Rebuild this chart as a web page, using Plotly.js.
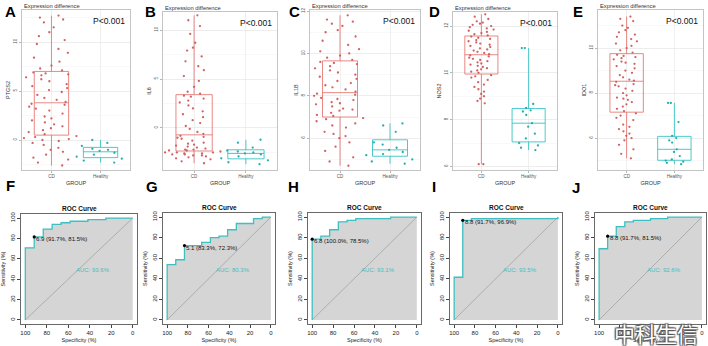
<!DOCTYPE html>
<html><head><meta charset="utf-8">
<script src="https://cdn.plot.ly/plotly-3.0.1.min.js"></script>
<style>html,body{margin:0;padding:0;background:#fff;}#chart{width:708px;height:346px;}</style>
</head><body><div id="chart"></div>
<script>
// ---------- DATA ----------
const groups = ['CD', 'Healthy'];
const genes = ['PTGS2', 'IL6', 'IL1B', 'NOS2', 'IDO1'];
const pValueText = 'P<0.001';

const ptgs2CD = [-2.6,-2.3,-2.0,-1.8,-1.5,-1.2,-1.0,-0.8,-0.5,-0.3,-0.1,0.0,0.1,0.2,0.3,0.4,
  0.6,0.8,1.0,1.2,1.4,1.6,1.8,2.0,2.2,2.4,2.7,3.0,3.2,3.4,3.6,3.7,
  3.9,4.1,4.3,4.6,4.9,5.1,5.3,5.5,5.7,6.0,6.2,6.4,6.6,6.7,6.8,6.9,
  7.1,7.3,7.6,8.0,8.4,8.9,9.3,9.8,10.2,10.6,11.0,11.5,12.0,12.3,12.5,12.7];
const ptgs2Healthy = [-2.3,-2.1,-1.9,-1.7,-1.5,-1.3,-1.1,-1.0,-0.9,-0.6,-0.3,0.0];

const il6CD = [-3.6,-3.4,-3.2,-3.1,-3.0,-2.9,-2.8,-2.8,-2.7,-2.7,-2.6,-2.6,-2.5,-2.5,-2.5,-2.4,
  -2.3,-2.3,-2.2,-2.2,-2.1,-2.0,-1.9,-1.8,-1.7,-1.6,-1.5,-1.3,-1.1,-1.0,-0.9,-0.8,
  -0.6,-0.4,-0.1,0.2,0.5,0.8,1.1,1.4,1.7,2.0,2.3,2.6,2.8,3.0,3.2,3.3,
  3.5,3.7,4.2,4.8,5.3,5.9,6.3,6.8,7.3,7.9,8.2,8.7,9.6,10.4,11.0,11.5];
const il6Healthy = [-3.7,-3.5,-3.3,-3.1,-2.9,-2.7,-2.6,-2.5,-2.4,-2.3,-2.0,-1.5,-1.2];

const il1bCD = [4.7,4.9,5.1,5.4,5.6,5.8,6.0,6.1,6.2,6.3,6.5,6.6,6.7,6.8,6.9,6.95,
  7.05,7.1,7.2,7.3,7.35,7.4,7.5,7.6,7.65,7.7,7.8,7.85,7.9,8.0,8.05,8.1,
  8.2,8.3,8.4,8.5,8.6,8.7,8.8,8.9,9.0,9.1,9.2,9.3,9.4,9.5,9.55,9.6,
  9.7,9.8,9.9,10.0,10.1,10.2,10.4,10.6,10.8,11.0,11.1,11.3,11.4,11.5,11.6,11.8];
const il1bHealthy = [4.8,4.9,5.0,5.2,5.25,5.35,5.45,5.55,5.7,5.8,6.3,6.6,6.7];

const nos2CD = [6.1,6.1,8.7,8.8,8.9,9.0,9.1,9.2,9.3,9.4,9.5,9.6,9.7,9.8,9.85,9.9,
  10.0,10.05,10.1,10.15,10.2,10.25,10.3,10.35,10.4,10.45,10.5,10.55,10.6,10.65,10.7,10.75,
  10.8,10.85,10.9,10.95,11.0,11.05,11.1,11.15,11.2,11.25,11.3,11.35,11.4,11.45,11.5,11.55,
  11.6,11.65,11.7,11.75,11.8,11.85,11.9,11.95,12.0,12.05,12.1,12.15,12.2,12.3,12.4,12.5];
const nos2Healthy = [6.7,6.8,6.9,7.0,7.2,7.4,7.7,7.85,8.2,8.35,8.4,8.5,8.67,11.06,11.06];

const ido1CD = [5.1,5.3,5.5,5.7,5.9,6.0,6.1,6.2,6.3,6.4,6.5,6.6,6.8,6.9,7.0,7.1,
  7.2,7.3,7.4,7.5,7.6,7.7,7.75,7.8,7.9,8.0,8.1,8.2,8.3,8.35,8.4,8.5,
  8.55,8.6,8.7,8.8,8.9,9.0,9.1,9.2,9.3,9.35,9.4,9.5,9.55,9.6,9.65,9.7,
  9.8,9.9,10.0,10.1,10.2,10.3,10.4,10.5,10.6,10.7,10.8,10.9,11.0,11.2,11.3,11.4];
const ido1Healthy = [4.84,4.9,4.95,5.0,5.05,5.2,5.38,5.5,5.8,5.9,6.0,6.1,6.71,7.56,7.56];

// ROC curves (specificity %, sensitivity %)
const rocSpecF = [100,100,91.7,91.7,83.3,83.3,75,75,66.7,66.7,58.3,58.3,41.7,41.7,25,25,0];
const rocSensF = [0,70.8,70.8,81.5,81.5,89.2,89.2,93.8,93.8,95.4,95.4,96.9,96.9,98.5,98.5,100,100];
const rocSpecG = [100,100,91.7,91.7,83.3,83.3,66.7,66.7,58.3,58.3,50,50,41.7,41.7,33.3,33.3,16.7,16.7,8.3,8.3,0];
const rocSensG = [0,53.8,53.8,58.5,58.5,72.3,72.3,75.4,75.4,80.0,80.0,81.5,81.5,87.7,87.7,93.8,93.8,98.5,98.5,100,100];
const rocSpecH = [100,100,91.7,91.7,83.3,83.3,75,75,66.7,66.7,58.3,58.3,25,25,0];
const rocSensH = [0,78.5,78.5,81.5,81.5,87.7,87.7,95.4,95.4,96.9,96.9,98.5,98.5,100,100];
const rocSpecI = [100,100,91.7,91.7,83.3,83.3,0,0];
const rocSensI = [0,41.5,41.5,96.9,96.9,98.5,98.5,100];
const rocSpecJ = [100,100,91.7,91.7,83.3,83.3,75,75,66.7,66.7,50,50,33.3,33.3,0];
const rocSensJ = [0,69.2,69.2,81.5,81.5,90.8,90.8,95.4,95.4,96.9,96.9,98.5,98.5,100,100];

const thrValue = [6.9, 5.1, 6.8, 8.8, 8.8];
const thrSpec = [91.7, 83.3, 100.0, 91.7, 91.7];
const thrSens = [81.5, 72.3, 78.5, 96.9, 81.5];
const aucValue = [93.6, 80.3, 93.1, 93.5, 92.6];
const diagSpec = [100, 0];
const diagSens = [0, 100];

const topLetters = ['A','B','C','D','E'];
const rocLetters = ['F','G','H','I','J'];
const watermark = '中科生信';

// ---------- LAYOUT CONFIG ----------
const W = 708, H = 346;
const xd = (l, r) => [l / W, r / W];
const yd = (t, b) => [1 - b / H, 1 - t / H];
const FONT = 'Liberation Sans, Arial, sans-serif';
const RED = '#E5736E', REDPT = '#cf5a5a', CYAN = '#2CC0C2', CYANPT = '#1aa9ab';
const TEAL = '#3fbfbf';

const topCfg = [
  {cd: ptgs2CD, hl: ptgs2Healthy, range: [-3.06, 13.27], dtick: 5, box: [22,130,10,170], jw: 1.15},
  {cd: il6CD, hl: il6Healthy, range: [-4.29, 11.84], dtick: 5, box: [163,277,12,170], jw: 1.15},
  {cd: il1bCD, hl: il1bHealthy, range: [4.5, 12.05], dtick: 2, box: [310,420,10,170], jw: 1.15},
  {cd: nos2CD, hl: nos2Healthy, range: [5.85, 12.6], dtick: 2, box: [453,557,12,170], jw: 0.55},
  {cd: ido1CD, hl: ido1Healthy, range: [4.58, 11.69], dtick: 2, box: [598,703,10,170], jw: 0.55}
];
const rocCfg = [
  {spec: rocSpecF, sens: rocSensF, box: [21,137,214,324]},
  {spec: rocSpecG, sens: rocSensG, box: [163,275,213,324]},
  {spec: rocSpecH, sens: rocSensH, box: [308,421,213,324]},
  {spec: rocSpecI, sens: rocSensI, box: [450,562,213,324]},
  {spec: rocSpecJ, sens: rocSensJ, box: [595,706,213,324]}
];
const topLetterPos = [[3,1],[143,1],[287,1],[427,1],[571,1]];
const rocLetterPos = [[4,175],[144,176],[286,176],[430,176],[570,177]];

const data = [];
const layout = {
  width: W, height: H, margin: {l:0, r:0, t:0, b:0}, showlegend: false,
  paper_bgcolor: '#fff', plot_bgcolor: '#fff', boxmode: 'overlay',
  font: {family: FONT, color: '#333'}, annotations: []
};
const ax = k => (k === 1 ? '' : String(k));

topCfg.forEach((p, i) => {
  const k = i + 1, xs = 'x' + ax(k), ys = 'y' + ax(k);
  const [l, r, t, b] = p.box;
  layout['xaxis' + ax(k)] = {
    domain: xd(l, r), anchor: ys, type: 'category', categoryorder: 'array', categoryarray: groups,
    range: [-0.6, 1.6], showgrid: true, gridcolor: '#ebebeb', gridwidth: 0.8, zeroline: false,
    showline: true, mirror: true, linecolor: '#b5b5b5', linewidth: 0.8,
    ticks: 'outside', ticklen: 2, tickcolor: '#b5b5b5', tickfont: {size: 4.5, color: '#555'},
    title: {text: 'GROUP', font: {size: 5.5, color: '#333'}, standoff: 2}, fixedrange: true
  };
  layout['yaxis' + ax(k)] = {
    domain: yd(t, b), anchor: xs, range: p.range, dtick: p.dtick, tick0: 0,
    showgrid: true, gridcolor: '#e8e8e8', gridwidth: 0.8, zeroline: false,
    minor: {showgrid: true, gridcolor: '#f4f4f4', gridwidth: 0.6, dtick: p.dtick / 2, tick0: 0},
    showline: true, mirror: true, linecolor: '#b5b5b5', linewidth: 0.8,
    ticks: 'outside', ticklen: 2, tickcolor: '#b5b5b5', tickangle: -90,
    tickfont: {size: 4.5, color: '#555'},
    title: {text: genes[i], font: {size: 5.5, color: '#333'}, standoff: 2}, fixedrange: true
  };
  [[p.cd, 'CD', RED, REDPT], [p.hl, 'Healthy', CYAN, CYANPT]].forEach(([vals, nm, lc, pc]) => {
    data.push({type: 'box', y: vals, name: nm, xaxis: xs, yaxis: ys, width: 0.7,
      boxpoints: false, whiskerwidth: 0, line: {color: lc, width: 0.85},
      fillcolor: 'rgba(0,0,0,0)', hoverinfo: 'skip'});
    data.push({type: 'box', y: vals, name: nm, xaxis: xs, yaxis: ys, width: p.jw,
      boxpoints: 'all', jitter: 1, pointpos: 0, whiskerwidth: 0,
      line: {color: 'rgba(0,0,0,0)', width: 0}, fillcolor: 'rgba(0,0,0,0)',
      marker: {color: pc, size: 2.3, opacity: 0.95}, hoverinfo: 'skip'});
  });
  layout.annotations.push({xref: xs + ' domain', yref: ys + ' domain', x: 0, y: 1,
    xanchor: 'left', yanchor: 'bottom', text: 'Expression difference', showarrow: false,
    font: {size: 5.8, color: '#333'}, yshift: -1});
  layout.annotations.push({xref: xs + ' domain', yref: ys + ' domain', x: 0.97, y: 0.975,
    xanchor: 'right', yanchor: 'top', text: pValueText, showarrow: false,
    font: {size: 8.5, color: '#111'}});
  layout.annotations.push({xref: 'paper', yref: 'paper', x: topLetterPos[i][0] / W, y: 1 - topLetterPos[i][1] / H,
    xanchor: 'left', yanchor: 'top', text: '<b>' + topLetters[i] + '</b>', showarrow: false,
    font: {size: 15, color: '#000', family: FONT}});
});

rocCfg.forEach((p, j) => {
  const k = j + 6, xs = 'x' + k, ys = 'y' + k;
  const [l, r, t, b] = p.box;
  const axCommon = {
    showgrid: false, zeroline: false, showline: true, mirror: true, linecolor: '#444', linewidth: 0.8,
    ticks: 'outside', ticklen: 3, tickcolor: '#444', dtick: 20, tick0: 0,
    tickfont: {size: 6, color: '#222'}, fixedrange: true
  };
  layout['xaxis' + k] = Object.assign({}, axCommon, {domain: xd(l, r), anchor: ys, range: [104, -4],
    title: {text: 'Specificity (%)', font: {size: 5.5, color: '#222'}, standoff: 3}});
  layout['yaxis' + k] = Object.assign({}, axCommon, {domain: yd(t, b), anchor: xs, range: [-4, 104],
    tickangle: -90, title: {text: 'Sensitivity (%)', font: {size: 5.5, color: '#222'}, standoff: 3}});
  data.push({type: 'scatter', x: p.spec, y: p.sens, xaxis: xs, yaxis: ys, mode: 'lines',
    line: {width: 0, color: TEAL}, fill: 'tozeroy', fillcolor: '#d5d5d5', hoverinfo: 'skip'});
  data.push({type: 'scatter', x: diagSpec, y: diagSens, xaxis: xs, yaxis: ys, mode: 'lines',
    line: {width: 0.7, color: '#9c9c9c'}, hoverinfo: 'skip'});
  data.push({type: 'scatter', x: p.spec, y: p.sens, xaxis: xs, yaxis: ys, mode: 'lines',
    line: {width: 1.3, color: TEAL}, hoverinfo: 'skip'});
  data.push({type: 'scatter', x: [thrSpec[j]], y: [thrSens[j]], xaxis: xs, yaxis: ys, mode: 'markers',
    marker: {color: '#000', size: 3.2}, hoverinfo: 'skip', cliponaxis: false});
  layout.annotations.push({xref: xs, yref: ys, x: thrSpec[j], y: thrSens[j], xanchor: 'left', yanchor: 'top',
    text: thrValue[j].toFixed(1) + ' (' + thrSpec[j].toFixed(1) + '%, ' + thrSens[j].toFixed(1) + '%)',
    showarrow: false, font: {size: 6, color: '#111'}, xshift: 0, yshift: 3});
  layout.annotations.push({xref: xs, yref: ys, x: 55, y: 49, xanchor: 'left', yanchor: 'middle',
    text: 'AUC: ' + aucValue[j].toFixed(1) + '%', showarrow: false, font: {size: 6, color: TEAL}});
  layout.annotations.push({xref: xs + ' domain', yref: ys + ' domain', x: 0.5, y: 1,
    xanchor: 'center', yanchor: 'bottom', text: '<b>ROC Curve</b>', showarrow: false,
    font: {size: 6.5, color: '#111'}, yshift: 0});
  layout.annotations.push({xref: 'paper', yref: 'paper', x: rocLetterPos[j][0] / W, y: 1 - rocLetterPos[j][1] / H,
    xanchor: 'left', yanchor: 'top', text: '<b>' + rocLetters[j] + '</b>', showarrow: false,
    font: {size: 15, color: '#000', family: FONT}});
});

layout.annotations.push({xref: 'paper', yref: 'paper', x: 700 / W, y: 1 - 333 / H, xanchor: 'right', yanchor: 'middle',
  text: watermark, showarrow: false,
  font: {family: 'Noto Sans CJK SC', size: 21, color: '#ffffff',
    shadow: '1px 1px 1px #555, -1px -1px 1px #555, 1px -1px 1px #555, -1px 1px 1px #555'}});

Plotly.newPlot('chart', data, layout, {staticPlot: true, displayModeBar: false});
</script>
</body></html>
